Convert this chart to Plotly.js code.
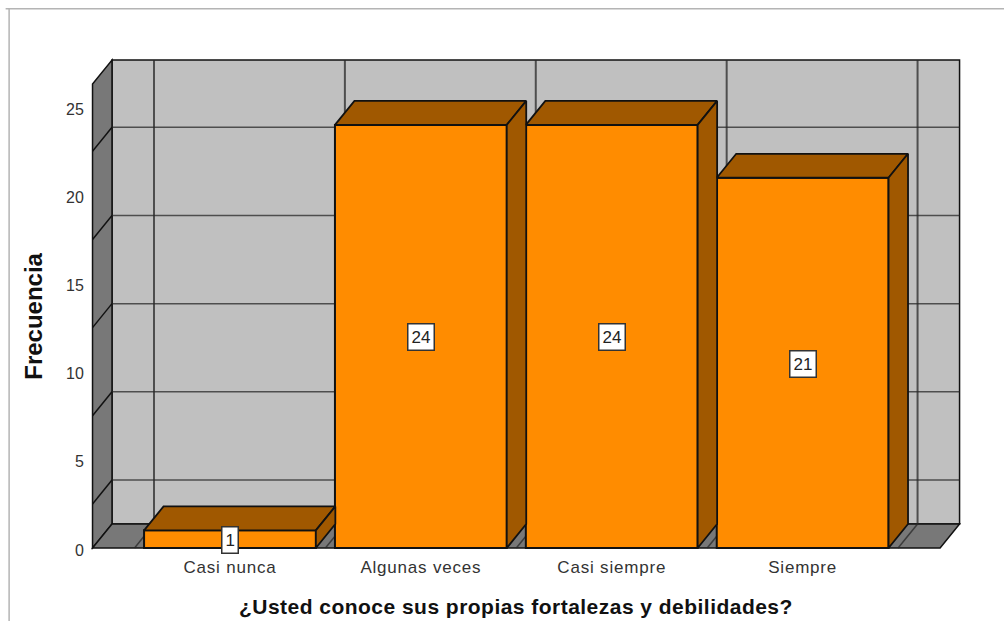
<!DOCTYPE html>
<html>
<head>
<meta charset="utf-8">
<script src="https://cdn.plot.ly/plotly-3.0.1.min.js"></script>
<style>
html,body{margin:0;padding:0;background:#fff}
#chart{width:1004px;height:621px}
#chart .xtick text{letter-spacing:.8px}
#chart .annotation[data-index="4"] text{letter-spacing:.47px}
</style>
</head>
<body>
<div id="chart"></div>
<script>
const categories = ["Casi nunca", "Algunas veces", "Casi siempre", "Siempre"];
const frequencies = [1, 24, 24, 21];
const yTickValues = [0, 5, 10, 15, 20, 25];
const wallGridValues = [2.5, 7.5, 12.5, 17.5, 22.5];
const wallCategoryEdges = [-0.5, 0.5, 1.5, 2.5, 3.5];
const xTitle = "¿Usted conoce sus propias fortalezas y debilidades?";
const yTitle = "Frecuencia";

const barWidth = 0.9, depthX = 0.102, depthY = 1.36;
const xL = -0.72, xR = 3.822, yT = 27.68;
const orange = "#ff8c00", orangeDark = "#a05800", wall = "#c0c0c0", wallDark = "#787878";
const edge = "#111111", grid = "rgba(40,40,40,0.75)";
const font = "Liberation Sans, Arial, sans-serif";
const xs = categories.map((c, i) => i);

const path = pts => "M" + pts.map(p => p[0] + "," + p[1]).join("L") + "Z";
const poly = (pts, fill) => ({type: "path", xref: "x", yref: "y", layer: "below", path: path(pts), fillcolor: fill, line: {color: edge, width: 1.5}});
const seg = (x0, y0, x1, y1, c, w) => ({type: "line", xref: "x", yref: "y", layer: "below", x0, y0, x1, y1, line: {color: c, width: w}});

const shapes = [
  poly([[xL + depthX, depthY], [xR, depthY], [xR, yT], [xL + depthX, yT]], wall),
  poly([[xL, 0], [xL + depthX, depthY], [xL + depthX, yT], [xL, yT - depthY]], wallDark),
  poly([[xL, 0], [xR - depthX, 0], [xR, depthY], [xL + depthX, depthY]], wallDark)
];
wallGridValues.forEach(v => {
  shapes.push(seg(xL + depthX, v + depthY, xR, v + depthY, grid, 1.5));
  shapes.push(seg(xL, v, xL + depthX, v + depthY, edge, 1.5));
});
wallCategoryEdges.forEach(e => {
  shapes.push(seg(e + depthX, depthY, e + depthX, yT, grid, 2));
  shapes.push(seg(e, 0, e + depthX, depthY, grid, 1.5));
});
shapes.push({type: "line", xref: "paper", yref: "paper", x0: -0.0955, x1: 1.1, y0: 1.0975, y1: 1.0975, line: {color: "#b4b4b4", width: 1.5}});
shapes.push({type: "line", xref: "paper", yref: "paper", x0: -0.0915, x1: -0.0915, y0: 1.0975, y1: -0.2, line: {color: "#b4b4b4", width: 1.5}});

const face = (pts, fill) => ({
  type: "scatter", mode: "lines", x: pts.map(p => p[0]), y: pts.map(p => p[1]),
  fill: "toself", fillcolor: fill, line: {color: edge, width: 1.8},
  hoverinfo: "skip", showlegend: false, cliponaxis: false
});

const traces = [{
  type: "bar", x: xs, y: frequencies, width: barWidth,
  marker: {color: orange, line: {color: edge, width: 2}},
  hoverinfo: "skip", showlegend: false, cliponaxis: false
}];
xs.forEach((x, i) => {
  const v = frequencies[i], a = x - barWidth / 2, b = x + barWidth / 2;
  traces.push(face([[a, v], [b, v], [b + depthX, v + depthY], [a + depthX, v + depthY], [a, v]], orangeDark));
  traces.push(face([[b, 0], [b + depthX, depthY], [b + depthX, v + depthY], [b, v], [b, 0]], orangeDark));
});

const annotations = xs.map((x, i) => ({
  x, y: frequencies[i] / 2, xref: "x", yref: "y", text: String(frequencies[i]), showarrow: false, yshift: -1,
  bgcolor: "#ffffff", bordercolor: "#333333", borderwidth: 1.5, borderpad: 3,
  font: {family: font, size: 17, color: "#222222"}
}));
annotations.push({xref: "paper", yref: "paper", x: (516 - 89) / 873.5, y: (551.5 - 607) / 494.5, yanchor: "middle", xanchor: "center",
  text: xTitle, showarrow: false, font: {family: font, size: 21, color: "#111111", weight: 700}});
annotations.push({xref: "paper", yref: "paper", x: (33.5 - 89) / 873.5, y: (551.5 - 316.5) / 494.5, yanchor: "middle", xanchor: "center", textangle: -90,
  text: yTitle, showarrow: false, font: {family: font, size: 24, color: "#111111", weight: 700}});

Plotly.newPlot("chart", traces, {
  width: 1004, height: 621, paper_bgcolor: "#ffffff", plot_bgcolor: "rgba(0,0,0,0)",
  margin: {l: 89, r: 41.5, t: 57, b: 69.5, autoexpand: false},
  showlegend: false, shapes, annotations,
  xaxis: {range: [-0.7385, 3.8348], tickvals: xs, ticktext: categories, showgrid: false, zeroline: false, showline: false,
    ticks: "outside", ticklen: 0.5, tickcolor: "rgba(0,0,0,0)", tickfont: {family: font, size: 17, color: "#333333"}},
  yaxis: {range: [-0.17, 27.85], tickvals: yTickValues, showgrid: false, zeroline: false, showline: false,
    ticks: "outside", ticklen: 1, ticklabelshift: 2, tickcolor: "rgba(0,0,0,0)", tickfont: {family: font, size: 16, color: "#333333"}}
}, {displayModeBar: false, staticPlot: true});
</script>
</body>
</html>
